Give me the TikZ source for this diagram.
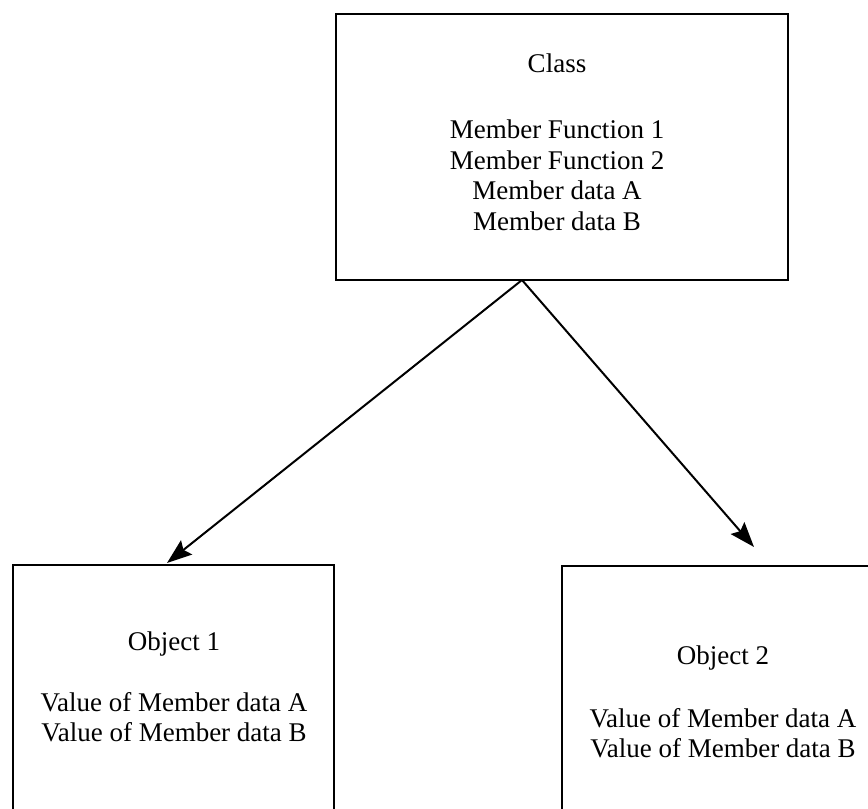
\documentclass[tikz,border=0pt]{standalone}
\usepackage{fontspec}
\setmainfont{Liberation Serif}
\usetikzlibrary{arrows.meta}
\begin{document}
\begin{tikzpicture}[x=1pt,y=-1pt,
  frame/.style={draw, line width=2.6pt, rectangle, inner sep=0pt, outer sep=0pt},
  caption/.style={align=center, font=\fontsize{27}{30.5}\selectfont, inner sep=0pt},
  link/.style={line width=2pt, -{Stealth[length=25pt,width=18pt,inset=4pt]}}]
\useasboundingbox (0,0) rectangle (868,809);
\clip (0,0) rectangle (868,809);

% class box and its members
\node[frame, minimum width=452pt, minimum height=266pt] (cls) at (562,147) {};
\node[caption] (clstext) at (557,142)
  {Class\\[36pt]Member Function 1\\Member Function 2\\Member data A\\Member data B};

% object boxes (they run past the lower edge)
\node[frame, minimum width=321pt, minimum height=295pt] (obj1) at (173.5,712.5) {};
\node[caption] (obj1text) at (174,687)
  {Object 1\\[30pt]Value of Member data A\\Value of Member data B};

\node[frame, minimum width=322pt, minimum height=294pt] (obj2) at (723,713) {};
\node[caption] (obj2text) at (723,702)
  {Object 2\\[32pt]Value of Member data A\\Value of Member data B};

% instantiation arrows
\coordinate (apex) at ([xshift=-40pt]cls.south);
\coordinate (tip1) at (167,563);
\coordinate (tip2) at (754,547);
\draw[link] (apex) -- (tip1);
\draw[link] (apex) -- (tip2);
\end{tikzpicture}
\end{document}
